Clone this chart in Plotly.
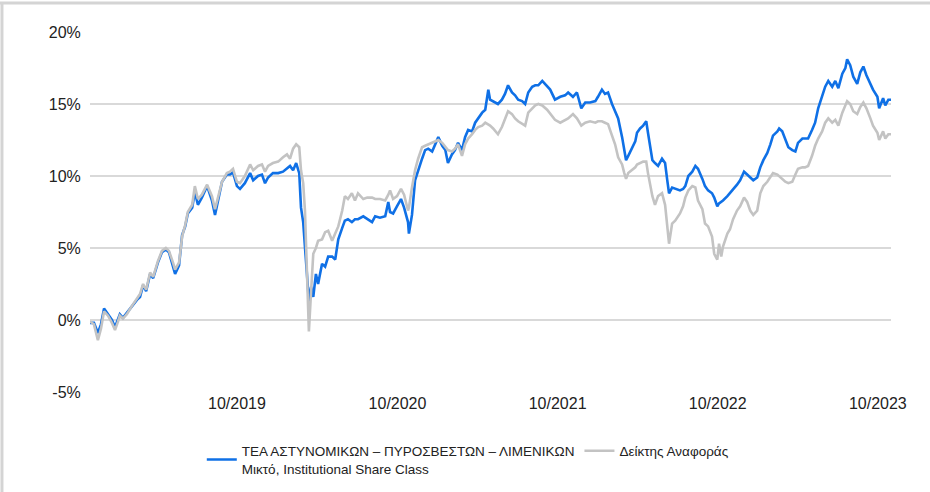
import plotly.graph_objects as go

dates = [
    "2018-10-31", "2018-11-09", "2018-11-18", "2018-11-25", "2018-12-02", "2018-12-11", "2018-12-20", "2018-12-27",
    "2019-01-03", "2019-01-07", "2019-01-14", "2019-01-23", "2019-02-04", "2019-02-15", "2019-02-22", "2019-03-01",
    "2019-03-08", "2019-03-17", "2019-03-24", "2019-04-04", "2019-04-13", "2019-04-22", "2019-04-29", "2019-05-08",
    "2019-05-13", "2019-05-22", "2019-05-29", "2019-06-05", "2019-06-11", "2019-06-21", "2019-06-27", "2019-07-04",
    "2019-07-13", "2019-07-25", "2019-08-05", "2019-08-12", "2019-08-19", "2019-08-28", "2019-09-08", "2019-09-15",
    "2019-09-22", "2019-10-01", "2019-10-08", "2019-10-19", "2019-10-31", "2019-11-07", "2019-11-18", "2019-11-27",
    "2019-12-04", "2019-12-11", "2019-12-22", "2020-01-03", "2020-01-14", "2020-01-23", "2020-01-30", "2020-02-06",
    "2020-02-13", "2020-02-20", "2020-02-24", "2020-02-29", "2020-03-04", "2020-03-09", "2020-03-13", "2020-03-18",
    "2020-03-23", "2020-03-29", "2020-04-03", "2020-04-12", "2020-04-19", "2020-04-26", "2020-05-05", "2020-05-12",
    "2020-05-19", "2020-05-28", "2020-06-03", "2020-06-10", "2020-06-19", "2020-06-26", "2020-07-03", "2020-07-15",
    "2020-07-24", "2020-08-04", "2020-08-11", "2020-08-22", "2020-09-03", "2020-09-10", "2020-09-14", "2020-09-21",
    "2020-09-30", "2020-10-09", "2020-10-16", "2020-10-25", "2020-10-27", "2020-11-03", "2020-11-10", "2020-11-17",
    "2020-11-26", "2020-12-03", "2020-12-10", "2020-12-19", "2020-12-26", "2021-01-02", "2021-01-11", "2021-01-18",
    "2021-01-24", "2021-02-02", "2021-02-09", "2021-02-16", "2021-02-25", "2021-03-04", "2021-03-11", "2021-03-20",
    "2021-03-27", "2021-04-03", "2021-04-12", "2021-04-19", "2021-04-26", "2021-04-30", "2021-05-07", "2021-05-18",
    "2021-05-27", "2021-06-03", "2021-06-10", "2021-06-19", "2021-06-26", "2021-07-03", "2021-07-12", "2021-07-19",
    "2021-07-26", "2021-08-04", "2021-08-11", "2021-08-18", "2021-08-27", "2021-09-07", "2021-09-14", "2021-09-25",
    "2021-10-07", "2021-10-18", "2021-10-25", "2021-11-05", "2021-11-14", "2021-11-24", "2021-12-03", "2021-12-14",
    "2021-12-26", "2022-01-01", "2022-01-10", "2022-01-17", "2022-01-24", "2022-02-02", "2022-02-09", "2022-02-16",
    "2022-02-25", "2022-03-02", "2022-03-06", "2022-03-11", "2022-03-20", "2022-03-27", "2022-03-31", "2022-04-07",
    "2022-04-14", "2022-04-21", "2022-04-25", "2022-05-05", "2022-05-11", "2022-05-18", "2022-05-27", "2022-06-03",
    "2022-06-08", "2022-06-12", "2022-06-19", "2022-06-26", "2022-07-07", "2022-07-14", "2022-07-19", "2022-07-26",
    "2022-08-04", "2022-08-11", "2022-08-17", "2022-08-27", "2022-09-02", "2022-09-09", "2022-09-18", "2022-09-23",
    "2022-09-30", "2022-10-04", "2022-10-09", "2022-10-13", "2022-10-23", "2022-10-29", "2022-11-05", "2022-11-14",
    "2022-11-21", "2022-11-30", "2022-12-07", "2022-12-14", "2022-12-21", "2022-12-30", "2023-01-06", "2023-01-13",
    "2023-01-22", "2023-01-29", "2023-02-04", "2023-02-14", "2023-02-18", "2023-02-25", "2023-03-04", "2023-03-11",
    "2023-03-20", "2023-03-27", "2023-04-02", "2023-04-12", "2023-04-18", "2023-04-25", "2023-05-04", "2023-05-11",
    "2023-05-18", "2023-05-27", "2023-06-03", "2023-06-10", "2023-06-19", "2023-06-26", "2023-07-03", "2023-07-12",
    "2023-07-19", "2023-07-23", "2023-07-30", "2023-08-06", "2023-08-15", "2023-08-22", "2023-08-29", "2023-09-05",
    "2023-09-14", "2023-09-20", "2023-09-30", "2023-10-04", "2023-10-13", "2023-10-18", "2023-10-25", "2023-10-31",
]

fund_return = [
    -0.2, -0.2, -0.9, -0.3, 0.8, 0.4, 0.0, -0.5,
    0.0, 0.4, 0.15, 0.5, 1.0, 1.4, 1.6, 2.4,
    2.0, 3.2, 2.9, 4.0, 4.7, 4.9, 4.7, 3.8,
    3.2, 3.8, 5.9, 6.5, 7.4, 7.8, 8.9, 8.0,
    8.5, 9.3, 8.3, 7.3, 8.4, 9.6, 10.1, 10.1,
    10.25, 9.3, 9.1, 9.5, 10.2, 9.7, 10.0, 10.1,
    9.5, 9.9, 10.2, 10.2, 10.3, 10.5, 10.7, 10.4,
    10.9, 10.2, 7.8, 6.8, 5.0, 3.3, 1.3, 2.3,
    1.6, 3.2, 2.5, 3.9, 3.7, 4.4, 4.4, 4.2,
    5.6, 6.4, 6.9, 7.0, 6.8, 7.0, 7.0, 7.2,
    7.0, 6.8, 7.2, 7.1, 7.2, 8.2, 7.5, 7.4,
    7.9, 8.4, 7.8, 6.8, 6.0, 7.3, 9.7, 10.4,
    11.2, 11.8, 11.9, 11.7, 12.2, 12.7, 12.1, 11.8,
    10.9, 11.5, 11.8, 12.3, 11.8, 12.7, 13.2, 13.1,
    13.7, 14.0, 14.4, 14.6, 16.0, 15.3, 15.2, 15.0,
    15.3, 15.7, 16.3, 15.8, 15.6, 15.3, 15.2, 15.0,
    15.8, 16.2, 16.3, 16.3, 16.6, 16.2, 16.0, 15.3,
    15.5, 15.6, 15.8, 15.5, 15.8, 14.7, 15.1, 15.1,
    15.2, 15.5, 16.0, 15.7, 15.8, 15.0, 14.5, 14.0,
    12.7, 11.9, 11.1, 11.4, 12.0, 12.4, 13.0, 13.3,
    13.5, 13.8, 13.0, 11.1, 10.9, 10.7, 11.2, 10.9,
    9.7, 8.8, 9.2, 9.1, 9.0, 9.1, 9.3, 10.0,
    10.3, 10.7, 10.5, 9.8, 9.3, 9.0, 8.8, 8.5,
    7.9, 8.1, 8.2, 8.3, 8.6, 8.8, 9.1, 9.4,
    9.7, 10.3, 10.1, 9.9, 9.7, 9.9, 10.6, 11.1,
    11.6, 12.2, 12.8, 13.1, 13.3, 13.1, 12.6, 12.0,
    11.8, 11.7, 12.3, 12.6, 12.6, 12.6, 13.2, 13.7,
    14.7, 15.5, 16.2, 16.6, 16.2, 16.6, 16.1, 17.1,
    17.5, 18.1, 17.7, 16.9, 16.4, 17.2, 17.6, 17.0,
    16.4, 16.0, 15.5, 14.7, 15.4, 14.9, 15.3, 15.3,
]

benchmark_return = [
    -0.1, -0.3, -1.4, -0.6, 0.6, 0.3, -0.2, -0.7,
    -0.1, 0.3, 0.1, 0.4, 1.0, 1.5, 1.8, 2.5,
    2.1, 3.3, 3.0, 4.1, 4.8, 5.0, 4.8, 4.0,
    3.5, 4.0, 5.8, 6.6, 7.5, 8.0, 9.3, 8.4,
    8.7, 9.4, 8.6, 7.7, 8.5, 9.6, 10.2, 10.3,
    10.5, 9.6, 9.5, 10.0, 10.8, 10.4, 10.7, 10.8,
    10.3, 10.7, 10.9, 11.0, 11.3, 11.5, 11.2, 11.9,
    12.2, 12.0, 10.4, 9.5, 7.6, 3.5, -0.8, 2.0,
    4.6, 5.0, 5.5, 5.6, 6.1, 6.2, 5.5, 6.0,
    6.5, 7.6, 8.6, 8.4, 8.8, 8.3, 8.8, 8.4,
    8.5, 8.5, 8.4, 8.4, 8.3, 8.7, 9.0, 8.4,
    8.6, 9.1, 8.7, 7.6, 7.8, 9.2, 10.4, 11.2,
    12.0, 12.1, 12.2, 12.3, 12.4, 12.5, 12.3, 12.0,
    11.8, 11.7, 11.9, 12.2, 11.4, 12.2, 12.6, 12.9,
    13.2, 13.4, 13.5, 13.7, 13.6, 13.5, 13.3, 12.9,
    13.4, 14.0, 14.5, 14.3, 14.0, 13.8, 13.6, 13.5,
    14.4, 14.7, 14.9, 15.0, 14.9, 14.6, 14.3, 13.9,
    13.7, 13.9, 14.0, 14.3, 14.0, 13.5, 13.7, 13.8,
    13.7, 13.8, 13.8, 13.7, 13.6, 12.8, 12.2, 11.3,
    10.8, 10.2, 9.8, 10.2, 10.4, 10.6, 10.8, 10.9,
    11.0, 11.0, 10.2, 8.6, 8.0, 8.6, 8.8, 8.0,
    6.5, 5.3, 6.7, 6.9, 7.4, 7.9, 8.5, 9.0,
    9.3, 9.2, 8.3, 7.7, 6.7, 6.5, 5.8, 4.6,
    4.2, 5.3, 4.4, 5.1, 6.0, 6.3, 7.0, 7.6,
    7.9, 8.5, 8.2, 7.6, 7.3, 7.6, 8.8, 9.3,
    9.6, 9.9, 10.2, 10.1, 10.0, 9.8, 9.6, 9.5,
    9.6, 10.1, 10.5, 10.6, 10.6, 10.7, 11.4, 12.1,
    12.6, 13.1, 13.7, 14.0, 13.7, 13.9, 13.5, 14.4,
    14.9, 15.2, 15.0, 14.5, 14.3, 14.8, 15.1, 14.7,
    14.0, 13.5, 13.0, 12.5, 13.1, 12.6, 12.9, 12.9,
]

fund_name = "ΤΕΑ ΑΣΤΥΝΟΜΙΚΩΝ – ΠΥΡΟΣΒΕΣΤΩΝ – ΛΙΜΕΝΙΚΩΝ<br>Μικτό, Institutional Share Class"
benchmark_name = "Δείκτης Αναφοράς"

y_ticks = [-5, 0, 5, 10, 15, 20]
y_tick_labels = ["-5%", "0%", "5%", "10%", "15%", "20%"]
x_ticks = ["2019-10-01", "2020-10-01", "2021-10-01", "2022-10-01", "2023-10-01"]
x_tick_labels = ["10/2019", "10/2020", "10/2021", "10/2022", "10/2023"]

FONT = "Liberation Sans, Arial, sans-serif"

fig = go.Figure()
fig.add_trace(go.Scatter(x=dates, y=fund_return, mode="lines", name=fund_name,
                         line=dict(color="#0f70e6", width=2.6), legendrank=1))
fig.add_trace(go.Scatter(x=dates, y=benchmark_return, mode="lines", name=benchmark_name,
                         line=dict(color="#c3c3c3", width=2.6), legendrank=2))

fig.update_layout(
    width=930, height=492,
    margin=dict(l=90, r=39, t=32, b=100),
    paper_bgcolor="white", plot_bgcolor="white",
    font=dict(family=FONT, size=16, color="#222222"),
    showlegend=True,
    legend=dict(orientation="h", xref="container", yref="container",
                x=0.503, xanchor="center", y=0.115, yanchor="top",
                font=dict(size=13.5, color="#222222"), valign="middle",
                itemwidth=30, bgcolor="rgba(0,0,0,0)"),
    xaxis=dict(type="date", range=["2018-10-31", "2023-10-31"],
               tickvals=x_ticks, ticktext=x_tick_labels,
               showgrid=False, zeroline=False, showline=False,
               ticks="", tickfont=dict(size=16, color="#222222")),
    yaxis=dict(range=[-5, 20], tickvals=y_ticks, ticktext=y_tick_labels,
               showgrid=True, gridcolor="#d9d9d9", gridwidth=2,
               zeroline=False, showline=False,
               ticks="outside", ticklen=5, tickcolor="rgba(0,0,0,0)",
               tickfont=dict(size=16, color="#222222")),
    shapes=[
        dict(type="line", xref="paper", yref="paper", x0=-0.115, x1=1.06, y0=1.0806, y1=1.0806,
             line=dict(color="#d4d4d4", width=3)),
        dict(type="line", xref="paper", yref="paper", x0=-0.1099, x1=-0.1099, y0=1.0806, y1=-0.3,
             line=dict(color="#d4d4d4", width=3)),
    ],
)

fig.write_html("out.html", config={"displayModeBar": False},
               post_script="document.body.style.margin='0px';")
